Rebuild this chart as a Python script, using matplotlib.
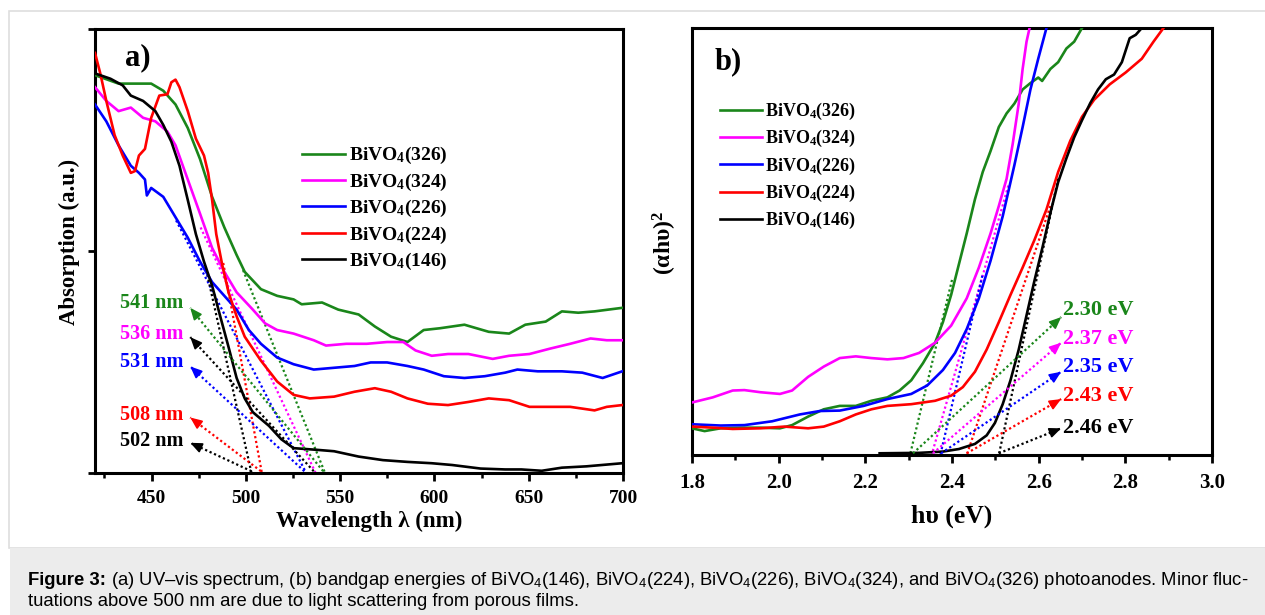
import numpy as np
import matplotlib
matplotlib.use("Agg")
import matplotlib.pyplot as plt
from matplotlib.patches import Rectangle

plt.rcParams['font.family'] = ['Liberation Serif', 'DejaVu Serif']
plt.rcParams['mathtext.fontset'] = 'custom'
plt.rcParams['mathtext.rm'] = 'Liberation Serif:bold'
plt.rcParams['mathtext.bf'] = 'Liberation Serif:bold'
plt.rcParams['mathtext.it'] = 'Liberation Serif:bold:italic'
plt.rcParams['mathtext.sf'] = 'Liberation Sans'

# ---------------- data: panel a (UV-vis) ----------------
names = ["BiVO$_4$(326)", "BiVO$_4$(324)", "BiVO$_4$(226)", "BiVO$_4$(224)", "BiVO$_4$(146)"]
colors = ["#1a861a", "#ff00ff", "#0000ff", "#ff0000", "#000000"]

wl_326 = [420, 432.5, 439, 449.8, 456.2, 462.7, 469.2, 475.7, 482.1, 488.6, 495.1, 499.4, 508, 516.6, 525.3, 529.6,
          540.4, 549, 559.8, 568.4, 577, 585.7, 594.3, 602.9, 615.9, 628.8, 639.6, 648.2, 659, 667.6, 676.3, 684.9, 699.6]
ab_326 = [0.896, 0.877, 0.877, 0.877, 0.861, 0.83, 0.777, 0.707, 0.622, 0.553, 0.491, 0.453, 0.414, 0.399, 0.391, 0.38,
          0.384, 0.368, 0.357, 0.33, 0.307, 0.295, 0.322, 0.326, 0.334, 0.318, 0.314, 0.334, 0.341, 0.364, 0.361, 0.364, 0.372]

wl_324 = [420, 426, 432.5, 439, 445.5, 452, 458.4, 462.7, 469.2, 475.7, 482.1, 488.6, 495.1, 503.7, 510.2, 516.6, 525.3,
          536, 542.5, 553.3, 564.1, 574.9, 583.5, 590, 598.6, 607.2, 618, 630.9, 639.6, 650.4, 661.2, 672, 682.8, 691.4, 699.6]
ab_324 = [0.869, 0.838, 0.815, 0.823, 0.8, 0.792, 0.769, 0.738, 0.661, 0.584, 0.507, 0.453, 0.407, 0.368, 0.337, 0.322, 0.314,
          0.299, 0.287, 0.291, 0.291, 0.295, 0.295, 0.276, 0.264, 0.268, 0.268, 0.257, 0.264, 0.268, 0.28, 0.291, 0.303, 0.299, 0.299]

wl_226 = [420, 426, 432.5, 439, 443.3, 446.5, 447.5, 449.8, 456.2, 462.7, 469.2, 475.7, 482.1, 488.6, 495.1, 501.6, 508,
          516.6, 525.3, 536, 546.8, 557.6, 566.2, 574.9, 585.7, 594.3, 605, 615.9, 626.7, 637.5, 644, 654.8, 667.6, 678.4, 689.2, 699.6]
ab_226 = [0.83, 0.792, 0.738, 0.692, 0.676, 0.661, 0.625, 0.642, 0.622, 0.576, 0.53, 0.476, 0.43, 0.399, 0.368, 0.322, 0.291,
          0.26, 0.245, 0.233, 0.237, 0.241, 0.249, 0.249, 0.241, 0.233, 0.218, 0.214, 0.218, 0.226, 0.233, 0.229, 0.229, 0.226, 0.214, 0.229]

wl_224 = [420, 422.8, 426, 430.4, 434.7, 439, 441.2, 443.3, 446.5, 449.8, 454.1, 458.4, 460.5, 462.7, 464.8, 469.2, 473.5,
          477.8, 480, 482.1, 484.3, 487.5, 490.8, 495.1, 499.4, 508, 516.6, 525.3, 533.9, 546.8, 557.6, 568.4, 577, 585.7, 596.5,
          607.2, 618, 628.8, 639.6, 650.4, 661.2, 672, 684.9, 691.4, 699.6]
ab_224 = [0.946, 0.9, 0.838, 0.761, 0.715, 0.676, 0.68, 0.715, 0.73, 0.8, 0.85, 0.853, 0.88, 0.886, 0.869, 0.815, 0.753,
          0.715, 0.676, 0.615, 0.538, 0.468, 0.407, 0.353, 0.307, 0.253, 0.206, 0.176, 0.168, 0.172, 0.183, 0.191, 0.183, 0.168, 0.156,
          0.153, 0.16, 0.168, 0.164, 0.149, 0.149, 0.149, 0.141, 0.149, 0.153]

wl_146 = [420, 428.2, 434.7, 439, 445.5, 452, 456.2, 460.5, 464.8, 469.2, 473.5, 477.8, 482.1, 486.4, 490.8, 495.1, 499.4,
          503.7, 512.3, 518.8, 525.3, 538.2, 546.8, 559.8, 572.7, 585.7, 598.6, 609.4, 624.5, 637.5, 646.1, 656.9, 667.6, 680.6, 699.6]
ab_146 = [0.9, 0.888, 0.873, 0.85, 0.838, 0.815, 0.784, 0.746, 0.692, 0.615, 0.538, 0.476, 0.422, 0.353, 0.284, 0.214, 0.168,
          0.137, 0.106, 0.076, 0.056, 0.052, 0.049, 0.037, 0.029, 0.025, 0.022, 0.018, 0.01, 0.008, 0.008, 0.005, 0.012, 0.015, 0.022]

# tangent (extrapolation) lines: start point on curve -> x-intercept
tan_a_x0 = [498.5, 476, 463, 488, 479]
tan_a_y0 = [0.457, 0.553, 0.569, 0.473, 0.457]
tan_a_x1 = [542, 537, 532, 508.5, 503]

# labels for onset wavelengths
onset_a = ["541 nm", "536 nm", "531 nm", "508 nm", "502 nm"]
onset_a_color = ["#1a861a", "#ff00ff", "#0000ff", "#ff0000", "#000000"]
onset_a_y = [0.384, 0.314, 0.249, 0.131, 0.072]
arrow_a_tail = [541, 536, 531, 508, 503]
arrow_a_head_y = [0.372, 0.306, 0.24, 0.125, 0.068]
arrow_a_color = ["#1a861a", "#000000", "#0000ff", "#ff0000", "#000000"]

# ---------------- data: panel b (Tauc) ----------------
ev_326 = [1.8, 1.829, 1.866, 1.912, 1.958, 2.003, 2.031, 2.068, 2.104, 2.141, 2.178, 2.214, 2.251, 2.279, 2.306, 2.333,
          2.361, 2.379, 2.398, 2.416, 2.434, 2.453, 2.471, 2.489, 2.508, 2.526, 2.544, 2.563, 2.581, 2.599, 2.608, 2.627,
          2.645, 2.664, 2.682, 2.700]
tc_326 = [0.0625, 0.056, 0.0625, 0.064, 0.064, 0.0625, 0.07, 0.09, 0.107, 0.115, 0.115, 0.127, 0.135, 0.151, 0.175, 0.215,
          0.263, 0.311, 0.375, 0.447, 0.519, 0.599, 0.663, 0.712, 0.768, 0.8, 0.823, 0.856, 0.871, 0.884, 0.876, 0.904,
          0.92, 0.952, 0.968, 1.0]

ev_324 = [1.8, 1.848, 1.894, 1.921, 1.958, 2.003, 2.031, 2.068, 2.104, 2.141, 2.178, 2.214, 2.251, 2.288, 2.324, 2.361,
          2.398, 2.434, 2.462, 2.489, 2.508, 2.526, 2.540, 2.554, 2.563, 2.572, 2.579]
tc_324 = [0.123, 0.135, 0.151, 0.152, 0.147, 0.143, 0.151, 0.183, 0.207, 0.227, 0.231, 0.227, 0.224, 0.227, 0.239, 0.263,
          0.303, 0.367, 0.439, 0.519, 0.583, 0.647, 0.728, 0.823, 0.904, 0.968, 1.0]

ev_226 = [1.8, 1.866, 1.921, 1.985, 2.049, 2.095, 2.141, 2.196, 2.251, 2.306, 2.343, 2.379, 2.407, 2.434, 2.462, 2.489,
          2.517, 2.544, 2.563, 2.581, 2.599, 2.618]
tc_226 = [0.072, 0.069, 0.07, 0.079, 0.095, 0.103, 0.104, 0.115, 0.131, 0.143, 0.163, 0.199, 0.239, 0.295, 0.367, 0.455,
          0.559, 0.679, 0.768, 0.856, 0.928, 1.0]

ev_224 = [1.8, 1.848, 1.894, 1.958, 2.013, 2.068, 2.104, 2.141, 2.178, 2.214, 2.251, 2.306, 2.361, 2.398, 2.425, 2.453,
          2.480, 2.508, 2.535, 2.563, 2.590, 2.618, 2.645, 2.673, 2.700, 2.728, 2.764, 2.801, 2.838, 2.865, 2.888]
tc_224 = [0.0665, 0.064, 0.061, 0.0625, 0.0665, 0.0625, 0.0665, 0.079, 0.095, 0.107, 0.115, 0.119, 0.127, 0.139, 0.159, 0.195,
          0.247, 0.311, 0.375, 0.439, 0.503, 0.575, 0.663, 0.736, 0.792, 0.832, 0.868, 0.896, 0.928, 0.968, 1.0]

ev_146 = [2.233, 2.324, 2.379, 2.416, 2.453, 2.480, 2.499, 2.517, 2.535, 2.554, 2.572, 2.590, 2.609, 2.627, 2.645, 2.664,
          2.682, 2.700, 2.719, 2.737, 2.755, 2.774, 2.792, 2.810, 2.824, 2.838]
tc_146 = [0.004, 0.005, 0.008, 0.014, 0.026, 0.046, 0.075, 0.119, 0.175, 0.247, 0.327, 0.407, 0.487, 0.567, 0.639, 0.695,
          0.744, 0.784, 0.824, 0.856, 0.88, 0.891, 0.92, 0.976, 0.984, 1.0]

tan_b_x0 = [2.40, 2.53, 2.47, 2.627, 2.645]
tan_b_y0 = [0.41, 0.631, 0.42, 0.583, 0.647]
tan_b_x1 = [2.303, 2.353, 2.373, 2.434, 2.508]

onset_b = ["2.30 eV", "2.37 eV", "2.35 eV", "2.43 eV", "2.46 eV"]
onset_b_y = [0.339, 0.272, 0.205, 0.139, 0.0625]
arrow_b_tail = [2.31, 2.356, 2.375, 2.434, 2.508]
arrow_b_head_y = [0.323, 0.263, 0.195, 0.131, 0.0625]

caption1_bold = "Figure 3:"
caption1 = (" (a) UV\u2013vis spectrum, (b) bandgap energies of BiVO$_{\\mathsf{4}}$(146), BiVO$_{\\mathsf{4}}$(224), "
            "BiVO$_{\\mathsf{4}}$(226), BiVO$_{\\mathsf{4}}$(324), and BiVO$_{\\mathsf{4}}$(326) photoanodes. Minor fluc-")
caption2 = "tuations above 500 nm are due to light scattering from porous films."

# ---------------- figure ----------------
W, H = 1265, 615
fig = plt.figure(figsize=(W / 100, H / 100), dpi=100)
fig.patch.set_facecolor("white")

# page frame + caption box
fig.patches.append(Rectangle((9 / W, (H - 548) / H), 1 - 9 / W + 0.01, (548 - 11) / H, transform=fig.transFigure,
                             facecolor="white", edgecolor="#dedede", lw=1.2, zorder=-10))
fig.patches.append(Rectangle((10 / W, 0), 1 - 10 / W, (H - 548) / H, transform=fig.transFigure,
                             facecolor="#ececec", edgecolor="none", zorder=-10))

ax_a = fig.add_axes([95 / W, (H - 473) / H, 528 / W, 444 / H])
ax_b = fig.add_axes([692 / W, (H - 455) / H, 520 / W, 427 / H])

lw_curve = 1.9
series_a = [(wl_326, ab_326), (wl_324, ab_324), (wl_226, ab_226), (wl_224, ab_224), (wl_146, ab_146)]
for (x, y), c, n in zip(series_a, colors, names):
    ax_a.plot(x, y, color=c, lw=lw_curve, label=n, zorder=3)
for x0, y0, x1, c in zip(tan_a_x0, tan_a_y0, tan_a_x1, colors):
    ax_a.plot([x0, x1], [y0, 0.0], color=c, lw=1.6, ls=(0, (1, 1.2)), zorder=2)

ax_a.set_xlim(420, 700)
ax_a.set_ylim(0, 1)


def dotted_arrow(ax, tail, head, color):
    ax.plot([tail[0], head[0]], [tail[1], head[1]], color=color, lw=1.6, ls=(0, (1, 1.2)), zorder=4)
    p0 = ax.transData.transform(tail)
    p1 = ax.transData.transform(head)
    d = (p1 - p0) / np.hypot(*(p1 - p0))
    back = ax.transData.inverted().transform(p1 - d * 12)
    ax.annotate("", xy=head, xytext=back,
                arrowprops=dict(arrowstyle="-|>,head_length=0.7,head_width=0.3", color=color, lw=1.2,
                                shrinkA=0, shrinkB=0), zorder=5)


for t, hy, c, lab, ly, lc in zip(arrow_a_tail, arrow_a_head_y, arrow_a_color, onset_a, onset_a_y, onset_a_color):
    dotted_arrow(ax_a, (t, 0.004), (470.5, hy), c)
    ax_a.text(467, ly, lab, color=lc, fontsize=14.5, fontweight="bold", ha="right", va="center")

ax_a.text(436, 0.935, "a)", fontsize=22, fontweight="bold", ha="left", va="center")

ax_a.set_xticks([450, 500, 550, 600, 650, 700])
ax_a.set_xticks(np.arange(425, 700, 25), minor=True)
ax_a.set_yticks([0, 0.5, 1.0])
ax_a.set_yticklabels([])
ax_a.tick_params(axis="x", which="major", direction="out", length=6, width=2, labelsize=14, pad=6)
ax_a.tick_params(axis="x", which="minor", direction="out", length=3.5, width=1.8)
ax_a.tick_params(axis="y", which="major", direction="out", length=5, width=2)
for lab in ax_a.get_xticklabels():
    lab.set_fontweight("bold")
for s in ax_a.spines.values():
    s.set_linewidth(2.2)

ax_a.text(0.52, -0.108, "Wavelength \u03bb (nm)", transform=ax_a.transAxes, fontsize=16.6, fontweight="bold",
          ha="center", va="center")
ax_a.text(-0.049, 0.52, "Absorption (a.u.)", transform=ax_a.transAxes, fontsize=16.4, fontweight="bold",
          ha="center", va="center", rotation=90)

leg_a = ax_a.legend(loc="upper left", bbox_to_anchor=(0.392, 0.738), frameon=False, fontsize=14,
                    handlelength=2.2, handletextpad=0.2, labelspacing=0.27, borderpad=0, borderaxespad=0)
for t in leg_a.get_texts():
    t.set_fontweight("bold")

# ---------------- panel b ----------------
series_b = [(ev_326, tc_326), (ev_324, tc_324), (ev_226, tc_226), (ev_224, tc_224), (ev_146, tc_146)]
for (x, y), c, n in zip(series_b, colors, names):
    ax_b.plot(x, y, color=c, lw=lw_curve, label=n, zorder=3, clip_on=True)
for x0, y0, x1, c in zip(tan_b_x0, tan_b_y0, tan_b_x1, colors):
    ax_b.plot([x0, x1], [y0, 0.0], color=c, lw=1.6, ls=(0, (1, 1.2)), zorder=2)

ax_b.set_xlim(1.8, 3.0)
ax_b.set_ylim(0, 1)

for t, hy, c, lab, ly in zip(arrow_b_tail, arrow_b_head_y, colors, onset_b, onset_b_y):
    dotted_arrow(ax_b, (t, 0.004), (2.652, hy), c)
    ax_b.text(2.656, ly, lab, color=c, fontsize=16, fontweight="bold", ha="left", va="center")

ax_b.text(1.853, 0.92, "b)", fontsize=22, fontweight="bold", ha="left", va="center")

ax_b.set_xticks(np.round(np.arange(1.8, 3.01, 0.2), 1))
ax_b.set_xticks(np.round(np.arange(1.9, 3.0, 0.2), 1), minor=True)
ax_b.set_xticklabels([f"{v:.1f}" for v in np.arange(1.8, 3.01, 0.2)])
ax_b.set_yticks([])
ax_b.tick_params(axis="x", which="major", direction="out", length=6, width=2, labelsize=15, pad=7)
ax_b.tick_params(axis="x", which="minor", direction="out", length=3.5, width=1.8)
for lab in ax_b.get_xticklabels():
    lab.set_fontweight("bold")
for s in ax_b.spines.values():
    s.set_linewidth(2.2)

ax_b.text(0.499, -0.144, "h\u03c5 (eV)", transform=ax_b.transAxes, fontsize=18.5, fontweight="bold",
          ha="center", va="center")
ax_b.text(-0.052, 0.496, "(\u03b1h\u03c5)$^{2}$", transform=ax_b.transAxes, fontsize=17, fontweight="bold",
          ha="center", va="center", rotation=90)

leg_b = ax_b.legend(loc="upper left", bbox_to_anchor=(0.054, 0.829), frameon=False, fontsize=13,
                    handlelength=2.3, handletextpad=0.2, labelspacing=0.34, borderpad=0, borderaxespad=0)
for t in leg_b.get_texts():
    t.set_fontweight("bold")

# ---------------- caption ----------------
cap_fs = 13.3
tb = fig.text(28 / W, (H - 585) / H, caption1_bold, fontsize=cap_fs, fontweight="bold",
              family=["Liberation Sans", "DejaVu Sans"], ha="left", va="baseline")
fig.canvas.draw()
bb = tb.get_window_extent()
fig.text(bb.x1 / W, (H - 585) / H, caption1, fontsize=cap_fs, family=["Liberation Sans", "DejaVu Sans"],
         ha="left", va="baseline")
fig.text(28 / W, (H - 606) / H, caption2, fontsize=cap_fs, family=["Liberation Sans", "DejaVu Sans"],
         ha="left", va="baseline")

fig.savefig("out.png", dpi=100)
